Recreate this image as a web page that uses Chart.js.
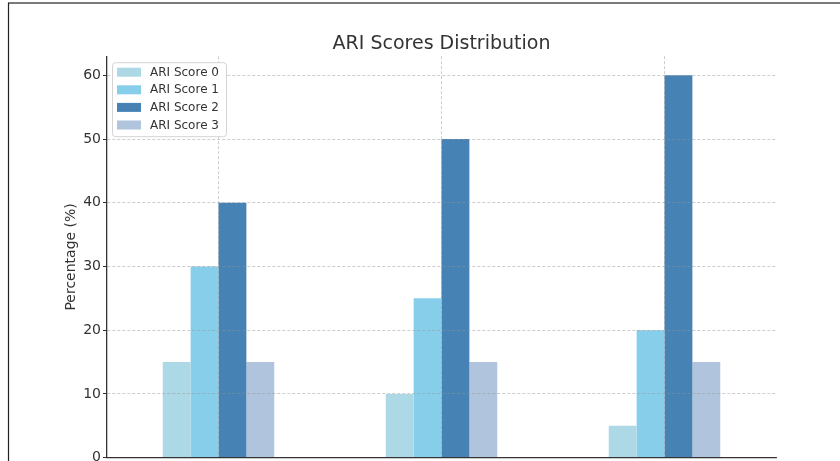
<!DOCTYPE html>
<html>
<head>
<meta charset="utf-8">
<script src="https://cdn.jsdelivr.net/npm/chart.js@4/dist/chart.umd.min.js"></script>
<style>
  html, body { margin: 0; padding: 0; background: #fff; overflow: hidden; }
  canvas { display: block; }
</style>
</head>
<body>
<canvas id="c" width="840" height="468"></canvas>
<script>
// Three groups, four ARI score shares each (percent)
const categories = ['Group 1', 'Group 2', 'Group 3'];
const seriesLabels = ['ARI Score 0', 'ARI Score 1', 'ARI Score 2', 'ARI Score 3'];
const score0 = [15, 10, 5];
const score1 = [30, 25, 20];
const score2 = [40, 50, 60];
const score3 = [15, 15, 15];
const yTicks = [0, 10, 20, 30, 40, 50, 60];

const colors = ['#ADD8E6', '#87CEEB', '#4682B4', '#B0C4DE'];
const FONT = "'DejaVu Sans', 'Liberation Sans', sans-serif";
const INK = '#333333';
const GRID = 'rgba(150,150,150,0.6)';

// Outer frame lines along the top and left edges
const framePlugin = {
  id: 'frame',
  beforeDraw(chart) {
    const ctx = chart.ctx;
    ctx.save();
    ctx.fillStyle = '#ffffff';
    ctx.fillRect(0, 0, chart.width, chart.height);
    ctx.strokeStyle = '#7a7a7a';
    ctx.lineWidth = 2;
    ctx.beginPath();
    ctx.moveTo(8, 3);
    ctx.lineTo(chart.width, 3);
    ctx.stroke();
    ctx.strokeStyle = '#222222';
    ctx.lineWidth = 1.2;
    ctx.beginPath();
    ctx.moveTo(8.5, 3);
    ctx.lineTo(8.5, chart.height);
    ctx.stroke();
    ctx.restore();
  }
};

// Boxed legend in the upper-left corner of the plot area
const boxLegend = {
  id: 'boxLegend',
  afterDraw(chart) {
    const ctx = chart.ctx;
    const area = chart.chartArea;
    const x0 = area.left + 5, y0 = area.top + 6;
    const w = 114, h = 74, r = 3;
    ctx.save();
    ctx.beginPath();
    ctx.roundRect(x0 + 0.5, y0 + 0.5, w, h, r);
    ctx.fillStyle = 'rgba(255,255,255,0.85)';
    ctx.fill();
    ctx.strokeStyle = '#d4d4d4';
    ctx.lineWidth = 1;
    ctx.stroke();
    ctx.font = '12px ' + FONT;
    ctx.textBaseline = 'middle';
    ctx.textAlign = 'left';
    chart.data.datasets.forEach((ds, i) => {
      const cy = y0 + 10 + i * 17.6;
      ctx.fillStyle = ds.backgroundColor;
      ctx.fillRect(x0 + 5, cy - 4.5, 24, 9);
      ctx.fillStyle = INK;
      ctx.fillText(ds.label, x0 + 38, cy + 0.5);
    });
    ctx.restore();
  }
};

const seriesData = [score0, score1, score2, score3];

new Chart(document.getElementById('c'), {
  type: 'bar',
  data: {
    labels: categories,
    datasets: seriesData.map((d, i) => ({
      label: seriesLabels[i],
      data: d,
      backgroundColor: colors[i],
      borderWidth: 0,
      barPercentage: 1,
      categoryPercentage: 0.5
    }))
  },
  options: {
    responsive: false,
    animation: false,
    devicePixelRatio: 1,
    layout: { padding: { top: 0, left: 0, right: 64, bottom: 0 } },
    plugins: {
      legend: { display: false },
      tooltip: { enabled: false },
      title: {
        display: true,
        fullSize: false,
        text: 'ARI Scores Distribution',
        color: INK,
        font: { family: FONT, size: 19, weight: 'normal', lineHeight: 1.2 },
        padding: { top: 33, bottom: 0.4 }
      }
    },
    scales: {
      x: {
        offset: true,
        ticks: { display: false },
        grid: {
          offset: false,
          display: true,
          drawTicks: false,
          color: GRID,
          lineWidth: 0.8,
          z: 1
        },
        border: { display: true, color: INK, width: 1.3, dash: [3, 2], z: 2 },
        afterFit(scale) { scale.height = 5; }
      },
      y: {
        min: 0,
        max: 63,
        ticks: {
          stepSize: 10,
          color: INK,
          padding: 2,
          font: { family: FONT, size: 14 }
        },
        afterBuildTicks(scale) {
          scale.ticks = yTicks.map(v => ({ value: v }));
        },
        grid: {
          color: GRID,
          lineWidth: 0.8,
          tickLength: 4,
          tickColor: INK,
          tickWidth: 1,
          tickBorderDash: [1, 0],
          z: 1
        },
        border: { display: true, color: INK, width: 1.3, dash: [3, 2], z: 2 },
        title: {
          display: true,
          text: 'Percentage (%)',
          color: INK,
          font: { family: FONT, size: 14 },
          padding: { top: 63, bottom: 0 }
        },
        afterFit(scale) { scale.width = 107; }
      }
    }
  },
  plugins: [framePlugin, boxLegend]
});
</script>
</body>
</html>
